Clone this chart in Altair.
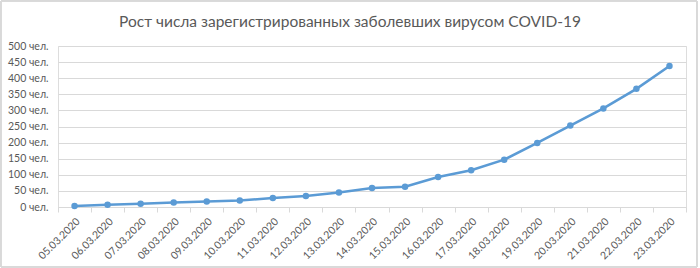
import altair as alt
import pandas as pd

dates = ["05.03.2020", "06.03.2020", "07.03.2020", "08.03.2020", "09.03.2020",
         "10.03.2020", "11.03.2020", "12.03.2020", "13.03.2020", "14.03.2020",
         "15.03.2020", "16.03.2020", "17.03.2020", "18.03.2020", "19.03.2020",
         "20.03.2020", "21.03.2020", "22.03.2020", "23.03.2020"]
cases = [3, 7, 10, 14, 17, 20, 28, 34, 45, 59, 63, 93, 114, 147, 199, 253, 306, 367, 438]
y_ticks = [0, 50, 100, 150, 200, 250, 300, 350, 400, 450, 500]
title_text = "Рост числа зарегистрированных заболевших вирусом COVID-19"

df = pd.DataFrame({"date": dates, "cases": cases})

FONT = "Lato"
GRAY = "#595959"

x_enc = alt.X("date:N", sort=dates,
              scale=alt.Scale(paddingInner=0, paddingOuter=0),
              axis=alt.Axis(title=None, labelAngle=-45, labelFontSize=10.5,
                            labelColor=GRAY, labelFont=FONT, tickBand="extent",
                            domainColor="#d9d9d9", tickColor="#d9d9d9",
                            tickSize=5, labelPadding=4, grid=False))
y_enc = alt.Y("cases:Q", scale=alt.Scale(domain=[0, 500], nice=False),
              axis=alt.Axis(title=None, values=y_ticks,
                            labelExpr="datum.value + ' чел.'",
                            labelFontSize=10.5, labelColor=GRAY, labelFont=FONT,
                            domain=False, ticks=False, labelPadding=10,
                            gridColor="#d9d9d9", gridWidth=1))

line = alt.Chart(df).mark_line(color="#5b9bd5", strokeWidth=2.6).encode(x=x_enc, y=y_enc)
pts = alt.Chart(df).mark_point(color="#5b9bd5", filled=True, opacity=1, size=42).encode(x=x_enc, y=y_enc)

border = alt.Chart(df).mark_rect(fill=None, stroke="#d9d9d9", strokeWidth=1, clip=False).encode(
    x=alt.value(-57), x2=alt.value(639), y=alt.value(-45), y2=alt.value(221))

title = alt.Chart(pd.DataFrame({"t": [title_text]})).mark_text(
    font=FONT, fontSize=15.5, color=GRAY, align="center",
    baseline="alphabetic").encode(x=alt.value(292), y=alt.value(-19), text="t:N")

chart = alt.layer(line, pts, border, title).properties(
    width=628, height=161,
    padding={"left": 58, "top": 46, "right": 14, "bottom": 61},
    autosize=alt.AutoSizeParams(type="none"),
).configure_view(stroke=None).configure(background="white")

chart.save("out.html", embed_options={"renderer": "svg", "actions": False})
